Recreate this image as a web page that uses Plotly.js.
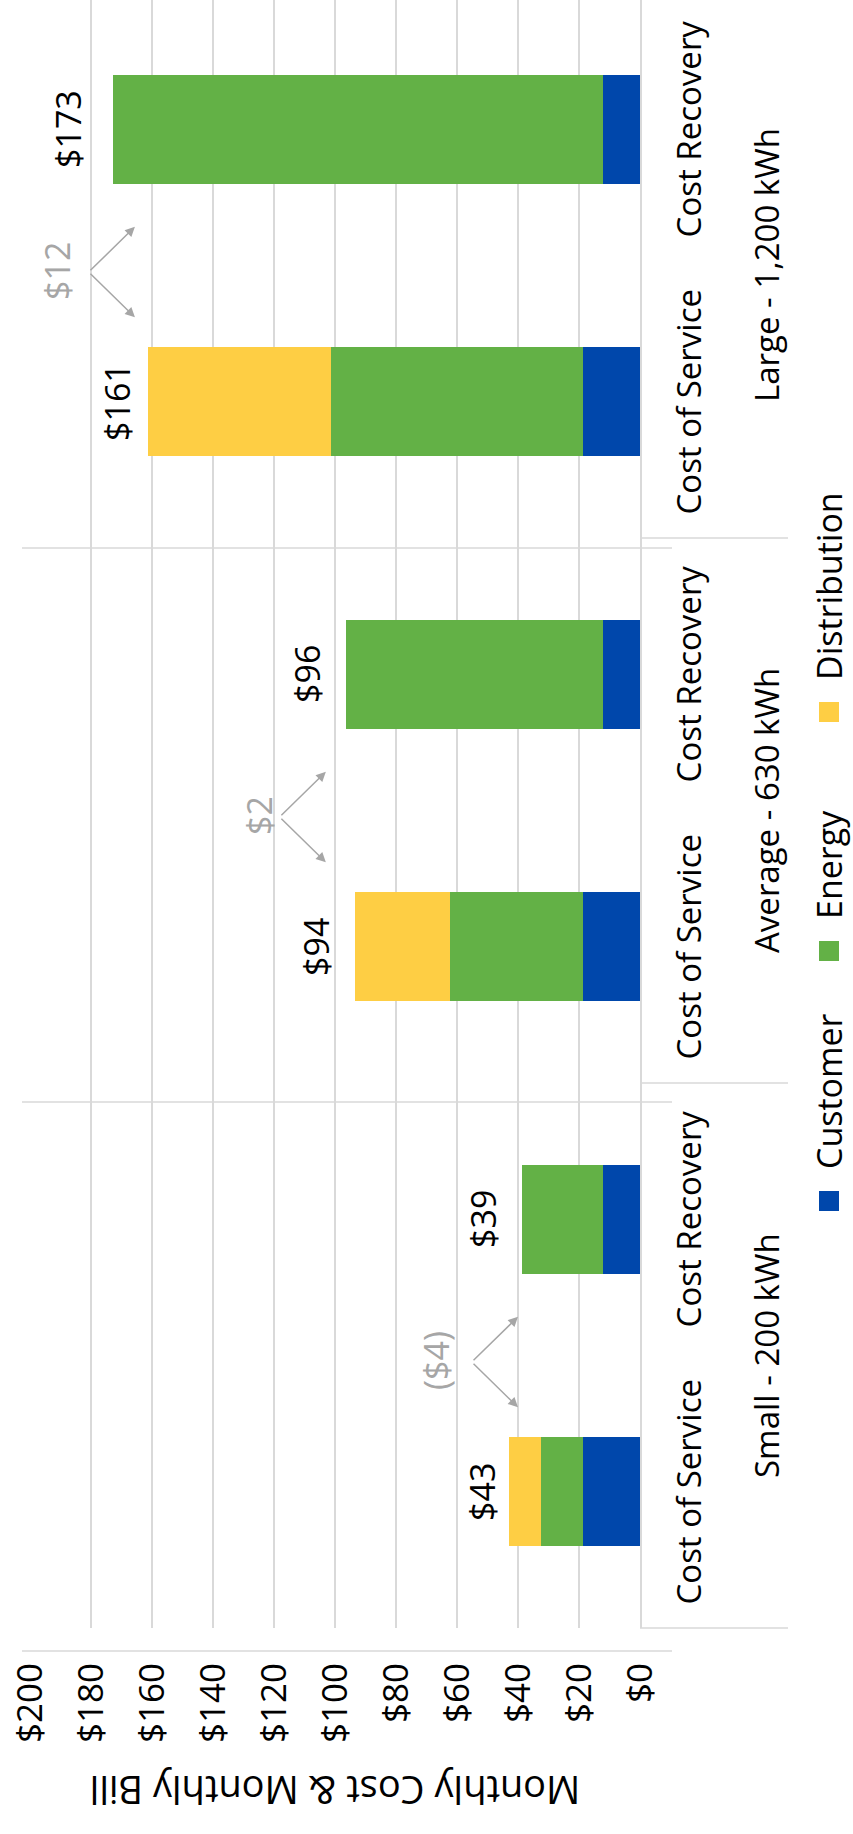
<!DOCTYPE html>
<html><head><meta charset="utf-8">
<script src="https://cdn.plot.ly/plotly-3.0.1.min.js"></script>
<style>
html,body{margin:0;padding:0;width:853px;height:1834px;overflow:hidden;background:#fff}
#wrap{position:absolute;left:0;top:0;width:1841px;height:853px;transform-origin:0 0;transform:translate(0,1834px) rotate(-90deg);}
#chart{width:1841px;height:853px}
</style></head><body>
<div id="wrap"><div id="chart"></div></div>
<script>
// ---- data ----
const groups = ['Small - 200 kWh', 'Average - 630 kWh', 'Large - 1,200 kWh'];
const scenarios = ['Cost of Service', 'Cost Recovery'];
const customer = [18.8, 12.0, 18.8, 12.0, 18.8, 12.0];
const energy = [13.8, 26.8, 43.4, 84.3, 82.6, 160.7];
const distribution = [10.4, 0, 31.4, 0, 59.8, 0];
const totalLabels = ['$43', '$39', '$94', '$96', '$161', '$173'];
const differenceLabels = ['($4)', '$2', '$12'];
const seriesNames = ['Customer', 'Energy', 'Distribution'];
const yTickVals = [0, 20, 40, 60, 80, 100, 120, 140, 160, 180, 200];
const yTickText = yTickVals.map(v => '$' + v);

// ---- styling / layout constants ----
const colors = ['#0047AB', '#63B146', '#FECE44'];
const FONT = 'Open Sans, Noto Sans, sans-serif';
const GRID = '#D9D9D9';
const GRAY = '#A6A6A6';
const arrowLevel = [40, 103, 165.6];   // value where arrow heads sit
const diffTextLevel = [67, 125, 191];  // value where difference text sits
const labelShift = [2, 14, 14, 14, 6, 20]; // px gap of total labels above bars
const PL = 206, PW = 1635, PT = 30, PH = 610;   // plot box in chart px
const py = v => (PT + PH - v) / PH;             // chart px (from top) -> paper y
const px = v => (v - PL) / PW;                  // chart px (from left) -> paper x

const catLabels = groups.flatMap(() => scenarios.slice());
const catIndex = catLabels.map((_, i) => i);

const seriesVals = [customer, energy, distribution];
const traces = seriesVals.map((vals, k) => ({
  type: 'bar', name: seriesNames[k], x: catIndex, y: vals,
  marker: {color: colors[k], line: {width: 0}},
  showlegend: false, hoverinfo: 'skip'
}));

const totals = customer.map((c, i) => c + energy[i] + distribution[i]);

const annotations = [];
const shapes = [];
totals.forEach((t, i) => {
  annotations.push({x: i, y: t, xref: 'x', yref: 'y', text: totalLabels[i],
    showarrow: false, yanchor: 'bottom', yshift: labelShift[i],
    font: {family: FONT, size: 34, color: '#000'}});
});
groups.forEach((g, gi) => {
  const c = gi * 2 + 0.5;
  // group label (second level of the category axis)
  annotations.push({x: c, y: py(640 + 126), xref: 'x', yref: 'paper', text: g,
    showarrow: false, yanchor: 'middle',
    font: {family: FONT, size: 33, color: '#000'}});
  [-0.19, 0.142].forEach((off, s) => {
    annotations.push({x: c + off, y: arrowLevel[gi], xref: 'x', yref: 'y',
      text: ' ', font: {size: 1}, showarrow: true, arrowhead: 2, arrowsize: 1.3,
      arrowwidth: 1.5, arrowcolor: GRAY, standoff: 0, startstandoff: 0,
      axref: 'pixel', ayref: 'pixel', ax: s === 0 ? 45 : -45, ay: -46});
  });
  annotations.push({x: c - 0.02, y: diffTextLevel[gi], xref: 'x', yref: 'y',
    text: differenceLabels[gi], showarrow: false,
    font: {family: FONT, size: 34, color: GRAY}});
});
// group dividers in the category label area
[0, 1, 2, 3].forEach(k => {
  shapes.push({type: 'line', xref: 'paper', yref: 'paper', x0: k / 3, x1: k / 3,
    y0: 0, y1: py(788), line: {color: GRID, width: 1.5}});
});

// manual legend
const legendX = [623, 873, 1112];   // chart px of legend squares
seriesNames.forEach((n, k) => {
  shapes.push({type: 'rect', xref: 'paper', yref: 'paper',
    x0: px(legendX[k]), x1: px(legendX[k] + 20),
    y0: py(819), y1: py(839),
    fillcolor: colors[k], line: {width: 0}});
  annotations.push({xref: 'paper', yref: 'paper', x: px(legendX[k] + 40),
    y: py(829), xanchor: 'left', yanchor: 'middle', showarrow: false,
    text: n, font: {family: FONT, size: 34, color: '#000'}});
});
// separator lines
[183, 732, 1286].forEach(p => {
  shapes.push({type: 'line', xref: 'paper', yref: 'paper',
    x0: px(p), x1: px(p), y0: py(22), y1: py(672),
    line: {color: GRID, width: 1.5}});
});

const layout = {
  width: 1841, height: 853,
  margin: {l: PL, r: 1841 - PL - PW, t: PT, b: 853 - PT - PH},
  paper_bgcolor: '#fff', plot_bgcolor: '#fff',
  barmode: 'stack', bargap: 0.6,
  font: {family: FONT, color: '#000', size: 34},
  xaxis: {range: [-0.5, 5.5], tickvals: catIndex, ticktext: catLabels,
    showgrid: false, zeroline: false, showline: true, linecolor: GRID,
    linewidth: 1.5, ticks: '', ticklabelstandoff: 20,
    tickfont: {family: FONT, size: 33, color: '#000'}, automargin: false},
  yaxis: {range: [0, 200], tickvals: yTickVals, ticktext: yTickText, showgrid: true,
    gridcolor: GRID, gridwidth: 1.5, zeroline: false, showline: false, ticks: '',
    ticklabelstandoff: 34,
    tickfont: {family: FONT, size: 35, color: '#000'}, automargin: false,
    title: {text: 'Monthly Cost & Monthly Bill', standoff: 20,
      font: {family: FONT, size: 38, color: '#000'}}},
  annotations: annotations, shapes: shapes
};
Plotly.newPlot('chart', traces, layout, {staticPlot: true});
</script>
</body></html>
